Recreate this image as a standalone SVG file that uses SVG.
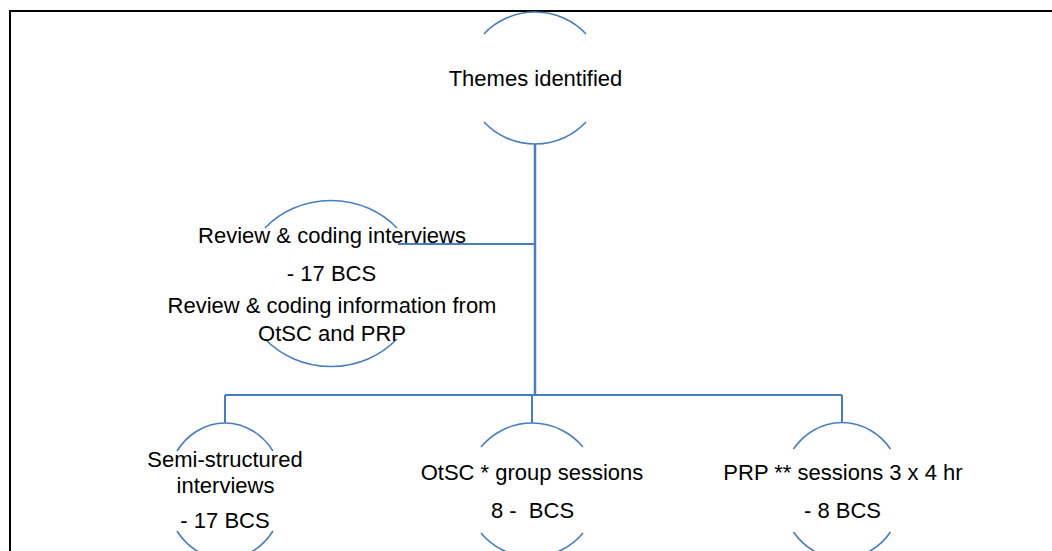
<svg xmlns="http://www.w3.org/2000/svg" width="1052" height="551" viewBox="0 0 1052 551">
  <style>
    .frame { fill: none; stroke: #000; stroke-width: 2; }
    .link { fill: none; stroke: #4a7ebb; stroke-width: 2; }
    .trunk { fill: none; stroke: #4a7ebb; stroke-width: 2.5; }
    .arc { fill: none; stroke: #4a7ebb; stroke-width: 1.6; }
    .label { font-family: "Liberation Sans", Arial, sans-serif; font-size: 22px; fill: #000; text-anchor: middle; }
  </style>
  <rect width="1052" height="551" fill="#fff"/>

  <!-- page frame (right and bottom edges fall outside the view) -->
  <path class="frame" d="M10 551 V11 H1052"/>

  <!-- connectors -->
  <g id="connectors">
    <path class="trunk" d="M535 144 V395"/>
    <path class="link" d="M398 244 H535"/>
    <path class="link" d="M225 395 H842"/>
    <path class="link" d="M225 395 V423"/>
    <path class="link" d="M532 395 V423"/>
    <path class="link" d="M842 395 V423"/>
  </g>

  <!-- root: themes -->
  <g id="node-themes">
    <path class="arc" d="M484 34 A68.5 66 0 0 1 586 34"/>
    <path class="arc" d="M484 122 A68.5 66 0 0 0 586 122"/>
    <text class="label" x="535.5" y="86">Themes identified</text>
  </g>

  <!-- review & coding -->
  <g id="node-review">
    <path class="arc" d="M265 228 A89 83.5 0 0 1 397 228"/>
    <path class="arc" d="M265 339 A89 83.5 0 0 0 397 339"/>
    <text class="label" x="332" y="243">Review &amp; coding interviews</text>
    <text class="label" x="331.5" y="281">- 17 BCS</text>
    <text class="label" x="332" y="313">Review &amp; coding information from</text>
    <text class="label" x="332" y="341">OtSC and PRP</text>
  </g>

  <!-- semi-structured interviews -->
  <g id="node-interviews">
    <path class="arc" d="M177 451 A59.3 68 0 0 1 273 451"/>
    <path class="arc" d="M177 531 A59.3 68 0 0 0 273 531"/>
    <text class="label" x="225" y="467">Semi-structured</text>
    <text class="label" x="225.5" y="493">interviews</text>
    <text class="label" x="225" y="528">- 17 BCS</text>
  </g>

  <!-- OtSC group sessions -->
  <g id="node-otsc">
    <path class="arc" d="M481 447 A66.5 67 0 0 1 583 447"/>
    <path class="arc" d="M481 533 A66.5 67 0 0 0 583 533"/>
    <text class="label" x="532" y="480">OtSC * group sessions</text>
    <text class="label" x="532.5" y="518" xml:space="preserve">8 -  BCS</text>
  </g>

  <!-- PRP sessions -->
  <g id="node-prp">
    <path class="arc" d="M793.5 449 A61 67.5 0 0 1 890.5 449"/>
    <path class="arc" d="M793.5 532 A61 67.5 0 0 0 890.5 532"/>
    <text class="label" x="843" y="480">PRP ** sessions 3 x 4 hr</text>
    <text class="label" x="842.5" y="518">- 8 BCS</text>
  </g>
</svg>
